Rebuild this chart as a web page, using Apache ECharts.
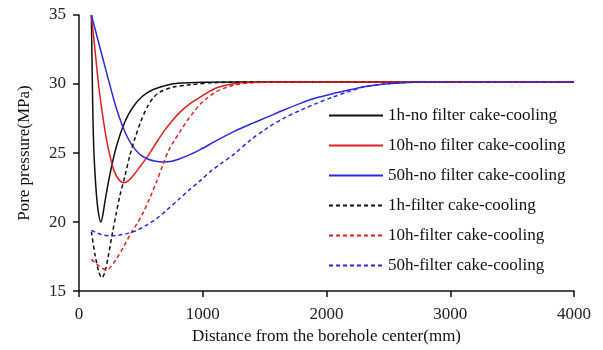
<!DOCTYPE html>
<html>
<head>
<meta charset="utf-8">
<script src="https://cdn.jsdelivr.net/npm/echarts@6/dist/echarts.min.js"></script>
<style>
  html, body { margin: 0; padding: 0; background: #fff; }
  #chart { width: 603px; height: 350px; }
</style>
</head>
<body>
<div id="chart"></div>
<script>
// Pore pressure (MPa) against distance from the borehole center (mm)
const xTicks = [0, 1000, 2000, 3000, 4000];
const yTicks = [15, 20, 25, 30, 35];

const seriesNames = [
  '1h-no filter cake-cooling',
  '10h-no filter cake-cooling',
  '50h-no filter cake-cooling',
  '1h-filter cake-cooling',
  '10h-filter cake-cooling',
  '50h-filter cake-cooling'
];

// [distance mm, pore pressure MPa]
const noCake1h = [
  [100, 35], [108, 30], [115, 26.6], [125, 24.2], [140, 22.1], [155, 20.8], [175, 20.0],
  [190, 20.4], [210, 21.5], [240, 23.0], [270, 24.3], [300, 25.4], [350, 26.8],
  [400, 27.8], [450, 28.5], [500, 29.0], [550, 29.35], [600, 29.6], [700, 29.9],
  [800, 30.05], [1000, 30.12], [1500, 30.15], [2500, 30.15], [4000, 30.15]
];
const noCake10h = [
  [100, 35], [130, 32.4], [160, 29.8], [190, 27.8], [220, 26.1], [250, 24.8],
  [280, 23.8], [320, 23.1], [360, 22.85], [400, 23.0], [450, 23.5], [500, 24.1],
  [550, 24.7], [600, 25.4], [680, 26.5], [750, 27.3], [820, 28.0], [900, 28.6],
  [980, 29.05], [1050, 29.45], [1120, 29.75], [1250, 30.02], [1400, 30.12],
  [1600, 30.15], [2500, 30.15], [4000, 30.15]
];
const noCake50h = [
  [100, 35], [150, 33.3], [200, 31.6], [250, 29.9], [300, 28.3], [350, 27.0],
  [400, 26.0], [450, 25.3], [500, 24.85], [560, 24.55], [620, 24.4], [680, 24.35],
  [750, 24.4], [820, 24.6], [900, 24.9], [980, 25.25], [1100, 25.85], [1250, 26.55],
  [1400, 27.15], [1520, 27.6], [1650, 28.1], [1790, 28.6], [1920, 29.0], [2050, 29.3],
  [2200, 29.6], [2300, 29.8], [2450, 29.98], [2600, 30.08], [2800, 30.14], [4000, 30.15]
];
const cake1h = [
  [100, 19.3], [130, 17.6], [160, 16.4], [185, 15.95], [210, 16.4], [240, 17.7],
  [270, 19.2], [300, 20.6], [330, 21.9], [370, 23.3], [410, 24.8], [450, 26.0],
  [500, 27.3], [550, 28.3], [600, 29.0], [650, 29.4], [750, 29.75], [900, 29.95],
  [1100, 30.1], [1500, 30.15], [2500, 30.15], [4000, 30.15]
];
const cake10h = [
  [100, 17.3], [150, 16.9], [200, 16.6], [225, 16.55], [260, 16.8], [300, 17.3],
  [360, 18.2], [420, 19.2], [470, 19.9], [520, 20.7], [570, 21.7], [630, 23.0],
  [680, 24.2], [720, 25.1], [770, 25.9], [820, 26.6], [870, 27.3], [930, 28.0],
  [980, 28.55], [1030, 28.95], [1110, 29.45], [1180, 29.72], [1250, 29.92],
  [1380, 30.08], [1600, 30.14], [2500, 30.15], [4000, 30.15]
];
const cake50h = [
  [100, 19.4], [150, 19.2], [200, 19.05], [260, 19.0], [320, 19.05], [400, 19.2],
  [480, 19.45], [550, 19.8], [620, 20.2], [700, 20.8], [800, 21.6], [900, 22.4],
  [980, 23.0], [1060, 23.65], [1150, 24.25], [1250, 24.9], [1380, 25.9], [1520, 26.8],
  [1650, 27.5], [1790, 28.1], [1920, 28.6], [2050, 29.05], [2180, 29.45], [2300, 29.78],
  [2450, 29.98], [2600, 30.1], [2800, 30.14], [4000, 30.15]
];

const seriesData = [noCake1h, noCake10h, noCake50h, cake1h, cake10h, cake50h];
const colors = ['#111111', '#e01e1e', '#2a2ae0', '#111111', '#e01e1e', '#2a2ae0'];
const dashed = [false, false, false, true, true, true];

const serif = '"Liberation Serif", "DejaVu Serif", serif';

const chart = echarts.init(document.getElementById('chart'), null, { renderer: 'canvas' });

chart.setOption({
  animation: false,
  backgroundColor: '#ffffff',
  color: colors,
  grid: { left: 79, right: 29, top: 15, bottom: 55, containLabel: false },
  legend: {
    orient: 'vertical',
    left: 323,
    top: 102,
    itemWidth: 54,
    itemHeight: 14,
    itemGap: 13,
    data: seriesNames,
    itemStyle: { color: 'transparent', borderWidth: 0 },
    textStyle: { fontFamily: serif, fontSize: 17, color: '#111' }
  },
  xAxis: {
    type: 'value',
    min: xTicks[0],
    max: xTicks[xTicks.length - 1],
    interval: 1000,
    name: 'Distance from the borehole center(mm)',
    nameLocation: 'middle',
    nameGap: 35,
    nameTextStyle: { fontFamily: serif, fontSize: 17, color: '#111' },
    axisLine: { lineStyle: { color: '#111', width: 1.5 } },
    axisTick: { inside: false, length: 6, lineStyle: { color: '#111', width: 1.5 } },
    axisLabel: {
      fontFamily: serif, fontSize: 17, color: '#222', margin: 15,
      formatter: v => String(v)
    },
    splitLine: { show: false }
  },
  yAxis: {
    type: 'value',
    min: yTicks[0],
    max: yTicks[yTicks.length - 1],
    interval: 5,
    name: 'Pore pressure(MPa)',
    nameLocation: 'middle',
    nameGap: 46,
    nameTextStyle: { fontFamily: serif, fontSize: 17, color: '#111' },
    axisLine: { show: true, lineStyle: { color: '#111', width: 1.5 } },
    axisTick: { show: true, inside: false, length: 6, lineStyle: { color: '#111', width: 1.5 } },
    axisLabel: { fontFamily: serif, fontSize: 17, color: '#222', margin: 13 },
    splitLine: { show: false }
  },
  series: seriesNames.map((name, i) => ({
    name: name,
    type: 'line',
    data: seriesData[i],
    smooth: 0.3,
    symbol: 'none',
    lineStyle: {
      color: colors[i],
      width: 1.5,
      type: dashed[i] ? [4, 3] : 'solid'
    },
    itemStyle: { color: colors[i] }
  }))
});
</script>
</body>
</html>
